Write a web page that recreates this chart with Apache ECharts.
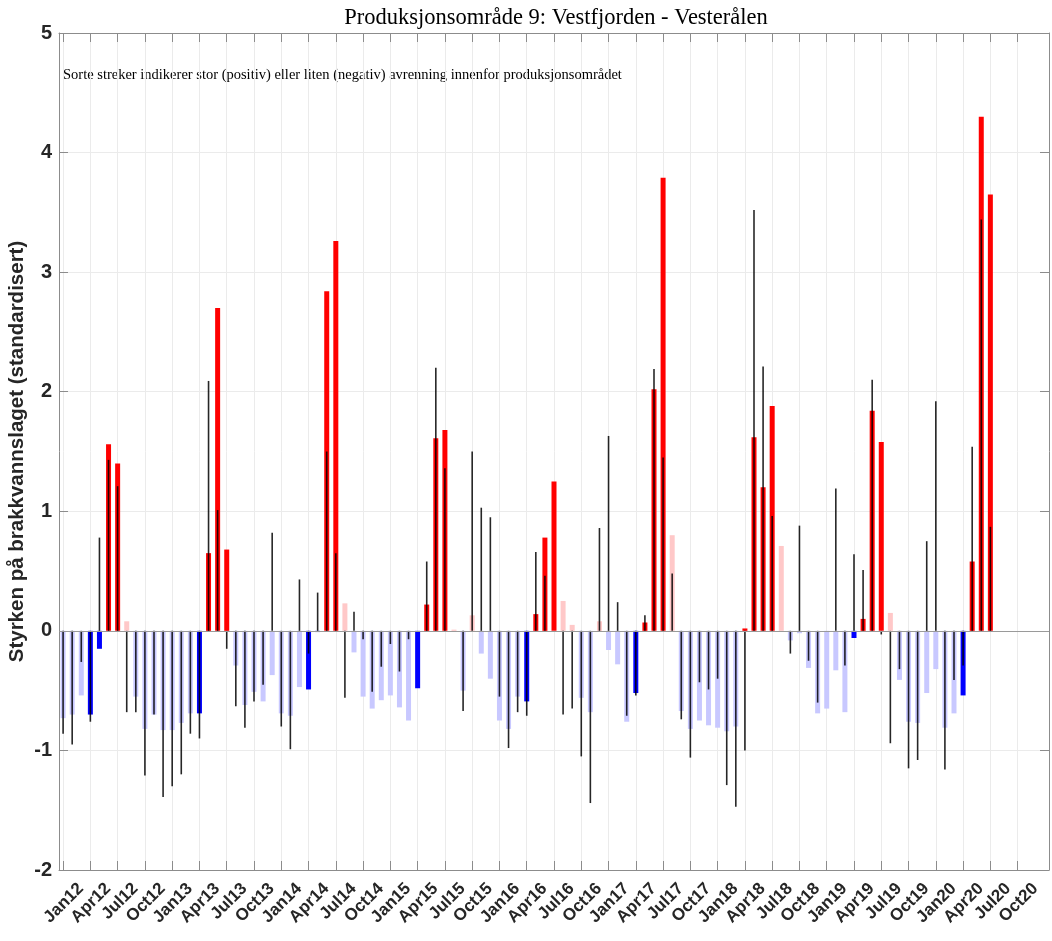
<!DOCTYPE html>
<html>
<head>
<meta charset="utf-8">
<script src="https://cdn.jsdelivr.net/npm/echarts@6/dist/echarts.min.js"></script>
<style>
  html, body { margin: 0; padding: 0; background: #ffffff; }
  #chart { width: 1052px; height: 941px; }
</style>
</head>
<body>
<div id="chart"></div>
<script>
// Quarterly tick labels along the time axis (one every third month, starting Jan 2012)
const tickLabels = [
  'Jan12','Apr12','Jul12','Oct12','Jan13','Apr13','Jul13','Oct13',
  'Jan14','Apr14','Jul14','Oct14','Jan15','Apr15','Jul15','Oct15',
  'Jan16','Apr16','Jul16','Oct16','Jan17','Apr17','Jul17','Oct17',
  'Jan18','Apr18','Jul18','Oct18','Jan19','Apr19','Jul19','Oct19',
  'Jan20','Apr20','Jul20','Oct20'
];

// Monthly strength of the brackish layer (standardised), Jan 2012 - Jul 2020
const brakkvann = [
  -0.73, -0.70, -0.54, -0.70, -0.15,  1.56,  1.40,  0.08, -0.55, -0.82, -0.70, -0.83, // 2012
  -0.83, -0.77, -0.69, -0.69,  0.65,  2.70,  0.68, -0.29, -0.62, -0.51, -0.59, -0.37, // 2013
  -0.69, -0.71, -0.47, -0.49, -0.01,  2.84,  3.26,  0.23, -0.18, -0.55, -0.65, -0.58, // 2014
  -0.54, -0.64, -0.75, -0.48,  0.22,  1.61,  1.68,  0.01, -0.50,  0.13, -0.19, -0.40, // 2015
  -0.75, -0.82, -0.55, -0.59,  0.14,  0.78,  1.25,  0.25,  0.05, -0.56, -0.68,  0.08, // 2016
  -0.16, -0.28, -0.76, -0.52,  0.07,  2.02,  3.79,  0.80, -0.67, -0.82, -0.75, -0.79, // 2017
  -0.81, -0.84, -0.80,  0.02,  1.62,  1.20,  1.88,  0.71, -0.08, -0.02, -0.31, -0.69, // 2018
  -0.65, -0.33, -0.68, -0.06,  0.10,  1.84,  1.58,  0.15, -0.41, -0.76, -0.77, -0.52, // 2019
  -0.32, -0.81, -0.69, -0.54,  0.58,  4.30,  3.65                                      // 2020
];

// Monthly runoff within the production area (standardised), drawn as thin black strokes
const avrenning = [
  -0.86, -0.95, -0.26, -0.76,  0.78,  1.43,  1.21, -0.68, -0.68, -1.21, -0.70, -1.39, // 2012
  -1.30, -1.20, -0.86, -0.90,  2.09,  1.01, -0.15, -0.63, -0.81, -0.59, -0.45,  0.82, // 2013
  -0.80, -0.99,  0.43, -0.19,  0.32,  1.50,  0.65, -0.56,  0.16, -0.07, -0.51, -0.30, // 2014
  -0.11, -0.34, -0.07,  0.00,  0.58,  2.20,  1.36,  0.00, -0.67,  1.50,  1.03,  0.95, // 2015
  -0.55, -0.98, -0.68, -0.71,  0.66,  0.46,  0.00, -0.70, -0.65, -1.05, -1.44,  0.86, // 2016
   1.63,  0.24, -0.71, -0.54,  0.13,  2.19,  1.45,  0.48, -0.74, -1.06, -0.43, -0.49, // 2017
  -0.40, -1.29, -1.47, -1.00,  3.52,  2.21,  0.96,  0.00, -0.19,  0.88, -0.25, -0.60, // 2018
   0.00,  1.19, -0.29,  0.64,  0.51,  2.10, -0.03, -0.94, -0.32, -1.15, -1.08,  0.75, // 2019
   1.92, -1.16, -0.41, -0.29,  1.54,  3.44,  0.87                                      // 2020
];

// Months April-July use saturated colours, the rest of the year pale ones
function barColor(monthIndex, value) {
  const m = monthIndex % 12;
  const season = m >= 3 && m <= 6;
  if (value >= 0) return season ? '#ff0000' : '#ffc8c8';
  return season ? '#0000ff' : '#c8c8ff';
}

const tickPos = tickLabels.map((_, k) => k * 3);
const xMin = -0.45, xMax = 108.45;
// rotated labels hang to the right of their tick, so their axis runs slightly shifted
const labelShift = 1.95;
const axisGray = '#8c8c8c';
const gridGray = '#ebebeb';
const labelFont = 'Liberation Sans, Arial, Helvetica, sans-serif';
const serifFont = 'Liberation Serif, Times New Roman, serif';

const barData = brakkvann.map((v, i) => ({
  value: [i, v],
  itemStyle: { color: barColor(i, v) }
}));
const strokeData = avrenning.map((v, i) => [i, v]);

const xBase = {
  type: 'value',
  min: xMin,
  max: xMax,
  axisLine: { show: true, onZero: false, lineStyle: { color: axisGray, width: 1 } },
  axisTick: { show: true, inside: true, length: 9, customValues: tickPos,
              lineStyle: { color: axisGray, width: 1 } },
  axisLabel: { show: false }
};

const yBase = {
  type: 'value',
  min: -2,
  max: 5,
  interval: 1,
  axisLine: { show: true, onZero: false, lineStyle: { color: axisGray, width: 1 } },
  axisTick: { show: true, inside: true, length: 9, lineStyle: { color: axisGray, width: 1 } }
};

const chart = echarts.init(document.getElementById('chart'), null, { renderer: 'canvas' });

chart.setOption({
  backgroundColor: '#ffffff',
  animation: false,
  grid: { left: 59, right: 3, top: 33, bottom: 71, containLabel: false, outerBoundsMode: 'none' },
  xAxis: [
    Object.assign({}, xBase, {
      position: 'bottom',
      splitLine: { show: true, lineStyle: { color: gridGray, width: 1 } }
    }),
    Object.assign({}, xBase, {
      position: 'top',
      splitLine: { show: false }
    }),
    {
      type: 'value',
      position: 'bottom',
      min: xMin - labelShift,
      max: xMax - labelShift,
      axisLine: { show: false },
      axisTick: { show: false },
      splitLine: { show: false },
      axisLabel: {
        show: true,
        customValues: tickPos,
        rotate: 45,
        margin: 16,
        color: '#262626',
        fontFamily: labelFont,
        fontWeight: 'bold',
        fontSize: 17,
        formatter: v => tickLabels[Math.round(v / 3)] || ''
      }
    }
  ],
  yAxis: [
    Object.assign({}, yBase, {
      position: 'left',
      name: 'Styrken på brakkvannslaget (standardisert)',
      nameLocation: 'middle',
      nameGap: 31,
      nameMoveOverlap: false,
      nameTextStyle: { color: '#262626', fontFamily: labelFont, fontWeight: 'bold', fontSize: 20.5 },
      axisLabel: { color: '#262626', fontFamily: labelFont, fontWeight: 'bold', fontSize: 20, margin: 7 },
      splitLine: { show: true, lineStyle: { color: gridGray, width: 1 } }
    }),
    Object.assign({}, yBase, {
      position: 'right',
      axisLabel: { show: false },
      splitLine: { show: false }
    })
  ],
  graphic: [
    {
      type: 'text',
      x: 556,
      y: 18,
      style: {
        text: 'Produksjonsområde 9: Vestfjorden - Vesterålen',
        font: '22.5px ' + serifFont,
        fill: '#000000',
        textAlign: 'center',
        textVerticalAlign: 'middle'
      }
    },
    {
      type: 'text',
      x: 63,
      y: 75,
      style: {
        text: 'Sorte streker indikerer stor (positiv) eller liten (negativ) avrenning innenfor produksjonsområdet',
        font: '14.5px ' + serifFont,
        fill: '#000000',
        textAlign: 'left',
        textVerticalAlign: 'middle'
      }
    }
  ],
  series: [
    {
      name: 'Brakkvannslag',
      type: 'bar',
      xAxisIndex: 0,
      yAxisIndex: 0,
      barWidth: 5,
      data: barData,
      z: 2,
      markLine: {
        silent: true,
        symbol: ['none', 'none'],
        label: { show: false },
        lineStyle: { color: '#9a9a9a', width: 1, type: 'solid' },
        data: [{ yAxis: 0 }]
      }
    },
    {
      name: 'Avrenning',
      type: 'bar',
      xAxisIndex: 1,
      yAxisIndex: 0,
      barWidth: 1.6,
      itemStyle: { color: '#000000', opacity: 0.85 },
      data: strokeData,
      z: 3
    }
  ]
});
</script>
</body>
</html>
